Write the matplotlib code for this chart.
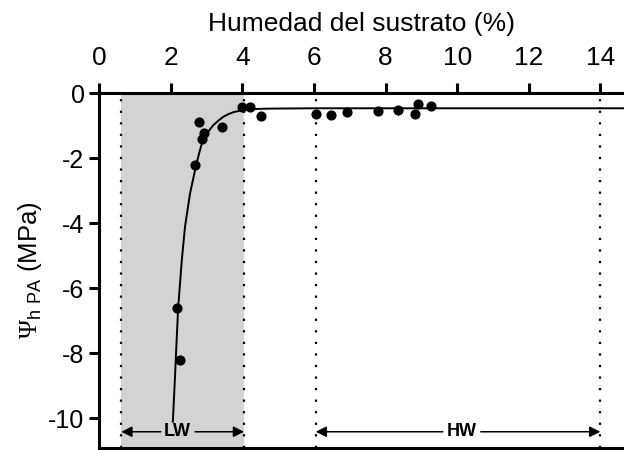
import matplotlib
matplotlib.use("Agg")
import matplotlib.pyplot as plt

plt.rcParams["font.family"] = ["Liberation Sans", "DejaVu Sans"]
plt.rcParams["mathtext.fontset"] = "custom"
plt.rcParams["mathtext.rm"] = "Liberation Serif"
plt.rcParams["mathtext.sf"] = "Liberation Sans"
plt.rcParams["axes.unicode_minus"] = False

# measured points
humedad = [3.98, 4.21, 4.51, 2.79, 3.44, 2.94, 2.88, 2.68, 2.17, 2.26,
            6.05, 6.47, 6.92, 7.78, 8.34, 8.92, 8.82, 9.27]
psi = [-0.41, -0.41, -0.70, -0.88, -1.03, -1.21, -1.42, -2.21, -6.60, -8.21,
       -0.64, -0.68, -0.57, -0.54, -0.50, -0.32, -0.63, -0.38]

# fitted curve
curva_x = [2.06, 2.12, 2.17, 2.21, 2.31, 2.40, 2.54, 2.71, 2.80, 2.87, 3.01,
           3.19, 3.33, 3.47, 3.61, 3.75, 4.03, 4.40, 4.77, 6.0, 14.7]
curva_y = [-10.10, -8.72, -7.49, -6.57, -5.13, -4.10, -3.08, -2.21, -1.82,
           -1.54, -1.23, -0.98, -0.84, -0.72, -0.64, -0.58, -0.51, -0.48,
           -0.47, -0.46, -0.46]

lw_lim = [0.62, 4.05]
hw_lim = [6.05, 14.0]

fig = plt.figure(figsize=(6.24, 4.5), dpi=100)
ax = fig.add_axes([0.1588, 0.0044, 0.8412, 0.7882])

ax.axvspan(lw_lim[0], lw_lim[1], color="#d3d3d3", lw=0, zorder=0)
for xv in lw_lim + hw_lim:
    ax.axvline(xv, color="k", lw=1.6, linestyle=(0, (1, 4.2)), zorder=1)

ax.plot(curva_x, curva_y, color="k", lw=1.4, zorder=2)
ax.plot(humedad, psi, "o", color="k", ms=6.3, zorder=3)

# LW / HW arrows
y_arr = -10.41
arr = dict(arrowstyle="-|>", color="k", lw=1.1, mutation_scale=16,
           shrinkA=0, shrinkB=0)
ax.annotate("", xy=(lw_lim[0], y_arr), xytext=(1.72, y_arr), arrowprops=arr)
ax.annotate("", xy=(lw_lim[1], y_arr), xytext=(2.68, y_arr), arrowprops=arr)
ax.text(2.19, y_arr, "LW", ha="center", va="center", fontsize=13,
        fontweight="bold")
ax.annotate("", xy=(hw_lim[0], y_arr), xytext=(9.6, y_arr), arrowprops=arr)
ax.annotate("", xy=(hw_lim[1], y_arr), xytext=(10.66, y_arr), arrowprops=arr)
ax.text(10.13, y_arr, "HW", ha="center", va="center", fontsize=13,
        fontweight="bold")

ax.set_xlim(0, 14.66)
ax.set_ylim(-10.91, 0)
ax.xaxis.tick_top()
ax.xaxis.set_label_position("top")
ax.set_xticks(range(0, 15, 2))
ax.set_yticks(range(-10, 1, 2))
ax.tick_params(axis="both", direction="out", length=7, width=2.2)
ax.tick_params(axis="x", labelsize=19, pad=9.5)
ax.tick_params(axis="y", labelsize=18, pad=3.5)
for s in ["top", "left", "bottom"]:
    ax.spines[s].set_linewidth(2.2)
ax.spines["right"].set_visible(False)

ax.set_xlabel("Humedad del sustrato (%)", fontsize=19, labelpad=11)
ax.set_ylabel(r"$\Psi_{\mathsf{h\ PA}}$ (MPa)", fontsize=18.5, labelpad=3)

fig.savefig("out.png", dpi=100)
